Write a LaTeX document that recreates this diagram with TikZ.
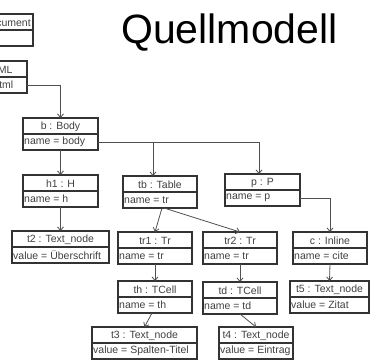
\documentclass[tikz,border=0pt]{standalone}
\usepackage{fontspec}
\setmainfont{Liberation Sans}
\usetikzlibrary{arrows.meta}
\definecolor{inkline}{HTML}{333333}
\definecolor{inktext}{HTML}{404040}
\definecolor{linkline}{HTML}{505050}
\tikzset{
  objframe/.style={draw=inkline, line width=1.2pt, inner sep=0pt, outer sep=0pt,
    minimum height=32pt, anchor=north west},
  objtext/.style={font=\fontsize{10.5}{12}\selectfont, text=inktext, inner sep=0pt},
  link/.style={draw=linkline, line width=0.8pt,
    -{Straight Barb[length=3.5pt,width=6pt,line width=0.8pt]}},
}
% object box: name, left x, right x, top y, object title, attribute line
\newcommand\objbox[6]{%
  \node[objframe, minimum width={#3-(#2)}] (#1) at (#2,#4) {};
  \draw[inkline, line width=1.2pt] ([yshift=-16pt]#1.north west) -- ([yshift=-16pt]#1.north east);
  \node[objtext] at ([yshift=-8.5pt]#1.north) {#5};
  \node[objtext, anchor=west] at ([xshift=1pt,yshift=8pt]#1.south west) {#6};
}
\begin{document}
\begin{tikzpicture}[x=1pt, y=-1pt]
\useasboundingbox (0,0) rectangle (375,360);
\clip (0,0) rectangle (375,360);

\node[anchor=base west, font=\fontsize{41}{45}\selectfont, inner sep=0pt] (title) at (121,43) {Quellmodell};

\objbox{doc}{-35}{33}{14}{d : Document}{}
\objbox{html}{-46}{27}{61}{h : HTML}{name = html}
\objbox{b}{23}{98}{118}{b : Body}{name = body}
\objbox{h1}{23}{98}{175}{h1 : H}{name = h}
\objbox{t2}{12}{109}{231}{t2 : Text\_node}{value = Überschrift}
\objbox{tb}{123}{197}{176}{tb : Table}{name = tr}
\objbox{p}{225}{300}{174}{p : P}{name = p}
\objbox{tr1}{118}{192}{232}{tr1 : Tr}{name = tr}
\objbox{tr2}{203}{277}{232}{tr2 : Tr}{name = tr}
\objbox{c}{293}{367}{232}{c : Inline}{name = cite}
\objbox{th}{118}{192}{281}{th : TCell}{name = th}
\objbox{td}{203}{277}{282}{td : TCell}{name = td}
\objbox{t5}{290}{369}{281}{t5 : Text\_node}{value = Zitat}
\objbox{t3}{92}{197}{327}{t3 : Text\_node}{value = Spalten-Titel}
\objbox{t4}{219}{293}{327}{t4 : Text\_node}{value = Eintrag}

% containment links
\draw[link] ([yshift=-8pt]html.east) -| (b.north);
\draw[link] (b.south) -- (h1.north);
\draw[link] (h1.south) -- (t2.north);
\draw[link] ([yshift=-8pt]b.east) -| ([xshift=-7pt]tb.north);
\draw[link] ([yshift=-8pt]b.east) -| ([xshift=-3.5pt]p.north);
\draw[link] ([xshift=2pt]tb.south) -- (tr1.north);
\draw[link] ([xshift=4pt]tb.south) -- (tr2.north);
\draw[link] ([yshift=-8pt]p.east) -| (c.north);
\draw[link] (tr1.south) -- (th.north);
\draw[link] (tr2.south) -- (td.north);
\draw[link] (c.south) -- (t5.north);
\draw[link] ([xshift=-3pt]th.south) -- (t3.north);
\draw[link] (td.south) -- (t4.north);
\end{tikzpicture}
\end{document}
